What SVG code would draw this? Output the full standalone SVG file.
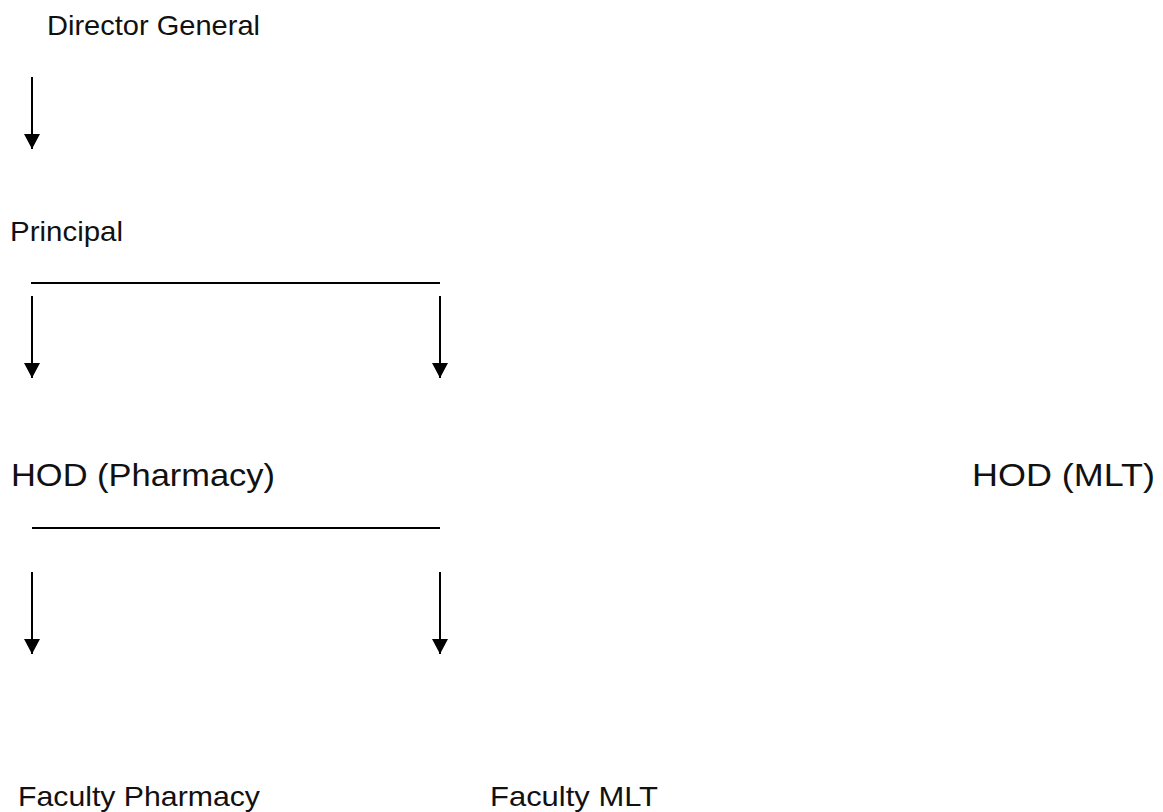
<svg xmlns="http://www.w3.org/2000/svg" width="1163" height="812" viewBox="0 0 1163 812">
<style>
.t{font-family:"Liberation Sans",Arial,sans-serif;fill:#111;}
.s{font-size:28px;}
.b{font-size:32px;}
.c{stroke:#000;stroke-width:2;fill:none;}
</style>
<defs>
<marker id="arr" markerUnits="userSpaceOnUse" markerWidth="16" markerHeight="16" refX="15" refY="8" orient="auto" viewBox="0 0 16 16">
<path d="M0,0 L15,8 L0,16 Z" fill="#000"/>
</marker>
</defs>
<rect width="1163" height="812" fill="#fff"/>
<g id="director-general"><text class="t s" x="47" y="35" textLength="213" lengthAdjust="spacingAndGlyphs">Director General</text></g>
<g id="principal"><text class="t s" x="10" y="241" textLength="113" lengthAdjust="spacingAndGlyphs">Principal</text></g>
<g id="hod-pharmacy"><text class="t b" x="11" y="486" textLength="264" lengthAdjust="spacingAndGlyphs">HOD (Pharmacy)</text></g>
<g id="hod-mlt"><text class="t b" x="972" y="486" textLength="183" lengthAdjust="spacingAndGlyphs">HOD (MLT)</text></g>
<g id="faculty-pharmacy"><text class="t s" x="18" y="806" textLength="242" lengthAdjust="spacingAndGlyphs">Faculty Pharmacy</text></g>
<g id="faculty-mlt"><text class="t s" x="490" y="806" textLength="168" lengthAdjust="spacingAndGlyphs">Faculty MLT</text></g>
<g id="connectors">
<line class="c" x1="32" y1="77" x2="32" y2="149" marker-end="url(#arr)"/>
<line class="c" x1="31" y1="283" x2="440" y2="283"/>
<line class="c" x1="32" y1="296" x2="32" y2="378" marker-end="url(#arr)"/>
<line class="c" x1="440" y1="296" x2="440" y2="378" marker-end="url(#arr)"/>
<line class="c" x1="32" y1="528" x2="440" y2="528"/>
<line class="c" x1="32" y1="572" x2="32" y2="654" marker-end="url(#arr)"/>
<line class="c" x1="440" y1="572" x2="440" y2="654" marker-end="url(#arr)"/>
</g>
</svg>
